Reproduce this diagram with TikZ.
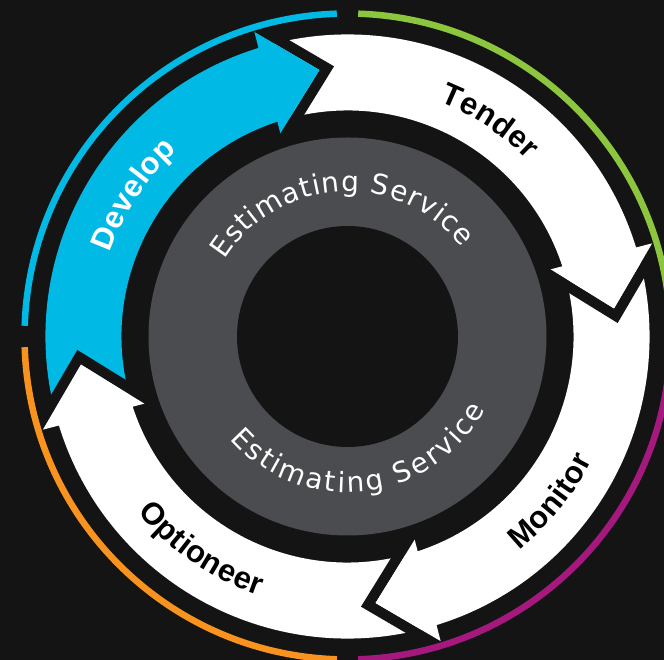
\documentclass[tikz,border=0pt]{standalone}
\usepackage{fontspec}
\setmainfont{Liberation Sans}
\newfontfamily\ringfont{DejaVu Sans}
\usetikzlibrary{calc,decorations.text}
\definecolor{bg}{HTML}{141414}
\definecolor{ringgray}{HTML}{4B4C4F}
\definecolor{cblue}{HTML}{00B9E4}
\definecolor{cgreen}{HTML}{8CC63F}
\definecolor{cpurple}{HTML}{A5197F}
\definecolor{corange}{HTML}{F7931E}
\tikzset{
  ringarc/.style={line width=6.5pt},
  curvetext/.style={decorate, decoration={text along path, text align={fit to path}, text={#1}}}
}
\begin{document}
\begin{tikzpicture}[x=1pt,y=1pt]
\clip (-347.5,-323.5) rectangle (316.5,336.5);
\fill[bg] (-347.5,-323.5) rectangle (316.5,336.5);
% centre ring
\fill[ringgray] (0,0) circle[radius=199];
\fill[bg] (0,0) circle[radius=110.5];
% arrow bodies
\foreach \p/\c in {0/cblue,-90/white,-180/white,-270/white}{
  \fill[\c] (\p+196:302) arc[start angle=\p+196, end angle=\p+106.5, radius=302]
    -- (\p+106.5:226) arc[start angle=\p+106.5, end angle=\p+196, radius=226] -- cycle;
}
% arrow heads with black gap in front
\foreach \p/\c/\n in {0/cblue/a,-90/white/b,-180/white/c,-270/white/d}{
  \coordinate (Bo\n) at (\p+107:318.5);
  \coordinate (T\n) at (\p+96:268);
  \coordinate (Bi\n) at (\p+108.3:214);
  \coordinate (Bx\n) at ($(Bo\n)!10.5pt!90:(T\n)$);
  \coordinate (By\n) at ($(Bi\n)!10.5pt!-90:(T\n)$);
  \coordinate (Ua\n) at ($(T\n)!50pt!(Bo\n)$);
  \coordinate (Ub\n) at ($(T\n)!50pt!(Bi\n)$);
  \coordinate (Um\n) at ($(Ua\n)!0.5!(Ub\n)$);
  \coordinate (M\n) at ($(T\n)!15pt!180:(Um\n)$);
  \fill[bg] (Bo\n) -- (Bx\n) -- (M\n) -- (By\n) -- (Bi\n) -- (T\n) -- cycle;
  \fill[\c] (Bo\n) -- (T\n) -- (Bi\n) -- cycle;
}
% outer coloured arcs
\draw[ringarc, cgreen] (1.9:323) arc[start angle=1.9, end angle=88.1, radius=323];
\draw[ringarc, cblue] (91.9:323) arc[start angle=91.9, end angle=178.1, radius=323];
\draw[ringarc, corange] (181.9:323) arc[start angle=181.9, end angle=268.1, radius=323];
\draw[ringarc, cpurple] (271.9:323) arc[start angle=271.9, end angle=358.1, radius=323];
% ring texts
\path[curvetext={|\ringfont\fontsize{28pt}{28pt}\selectfont\color{white}|Estimating Service}]
  (148:145) arc[start angle=148, end angle=38, radius=145];
\path[curvetext={|\ringfont\fontsize{28pt}{28pt}\selectfont\color{white}|Estimating Service}]
  (221:156) arc[start angle=221, end angle=332, radius=156];
% arrow labels
\path[curvetext={|\fontsize{31pt}{31pt}\selectfont\bfseries\color{white}|Develop}]
  (160.5:252) arc[start angle=160.5, end angle=132.5, radius=252];
\path[curvetext={|\fontsize{31pt}{31pt}\selectfont\bfseries\color{black}|Tender}]
  (68.5:252) arc[start angle=68.5, end angle=44.5, radius=252];
\path[curvetext={|\fontsize{31pt}{31pt}\selectfont\bfseries\color{black}|Monitor}]
  (308.75:274) arc[start angle=308.75, end angle=333.25, radius=274];
\path[curvetext={|\fontsize{31pt}{31pt}\selectfont\bfseries\color{black}|Optioneer}]
  (219.9:274) arc[start angle=219.9, end angle=251.1, radius=274];
\end{tikzpicture}
\end{document}
